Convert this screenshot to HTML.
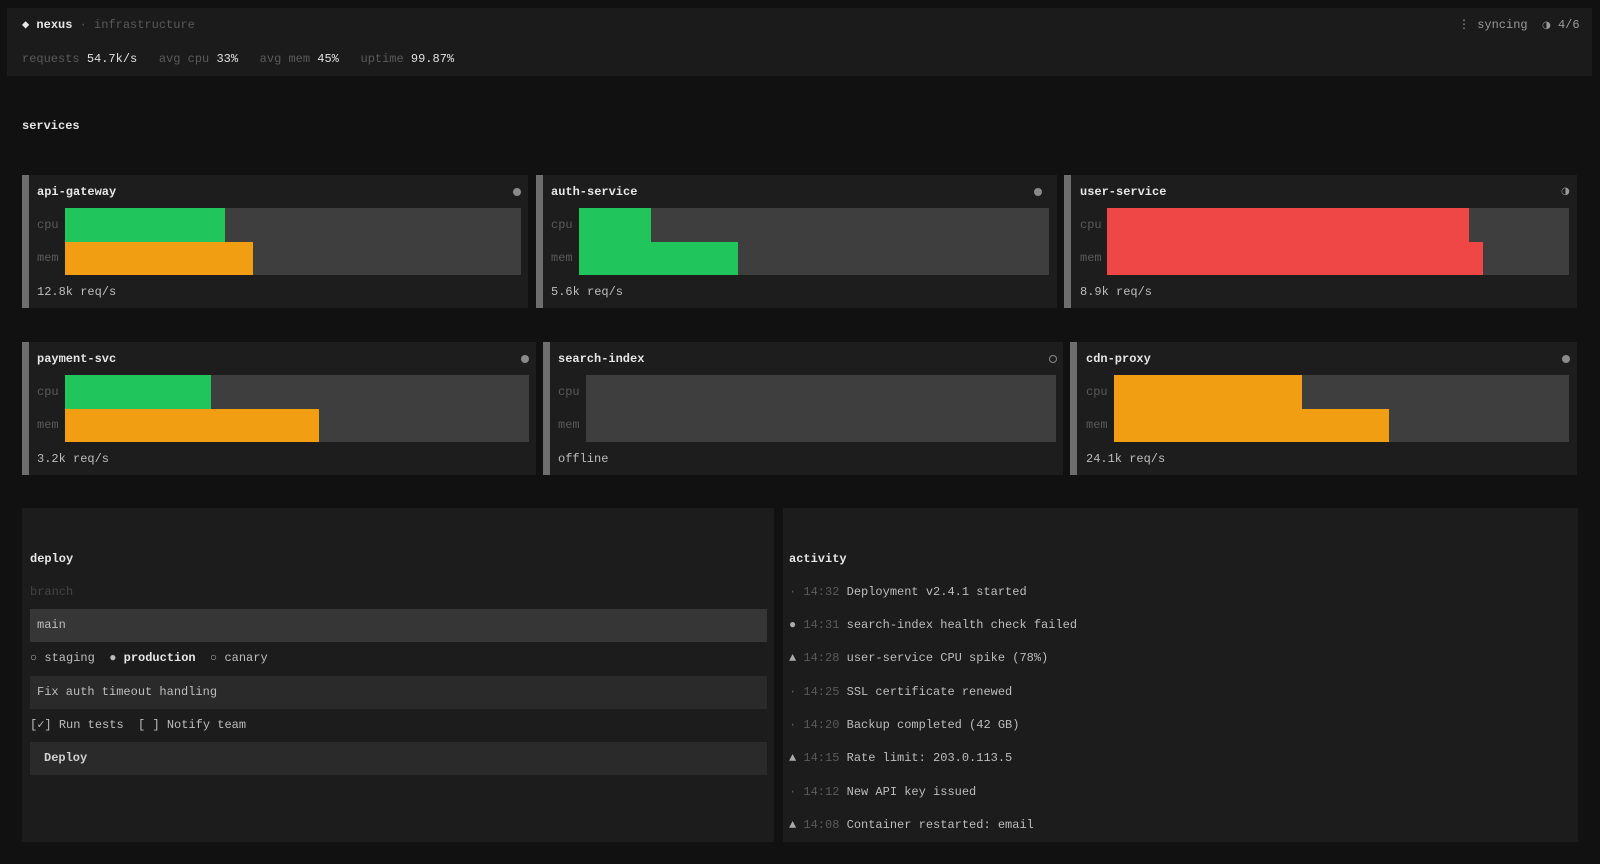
<!DOCTYPE html>
<html><head><meta charset="utf-8"><style>
*{margin:0;padding:0;box-sizing:border-box}
body{width:1600px;height:864px;background:#111112;font-family:"Liberation Mono",monospace;font-size:12px;color:#bdbdbd;position:relative;overflow:hidden}
.a{position:absolute;white-space:pre;line-height:16px}
.dim{color:#5a5a5a}
.b{color:#e6e6e6;font-weight:bold}
.sym{font-family:"DejaVu Sans",sans-serif}
.hdr{position:absolute;left:7px;top:8px;width:1585px;height:68px;background:#1b1b1c}
.card{position:absolute;background:#1d1d1e;border-left:7px solid #6e6e6e}
.trk{position:absolute;background:#3e3e3e}
.f{position:absolute}
.g{background:#20c55c}.o{background:#f29e12}.r{background:#ef4646}
.dot{position:absolute;width:8px;height:8px;border-radius:50%;background:#8a8a8a}
.pnl{position:absolute;background:#1c1c1d}
.inp{position:absolute;background:#2a2a2b}
</style></head><body>
<div class="hdr"></div>
<div class="a" style="left:22px;top:17px"><span class="b">◆ nexus</span><span class="dim"> · infrastructure</span></div>
<div class="a" style="left:22px;top:51px"><span class="dim">requests </span><span style="color:#e0e0e0">54.7k/s</span><span class="dim">   avg cpu </span><span style="color:#e0e0e0">33%</span><span class="dim">   avg mem </span><span style="color:#e0e0e0">45%</span><span class="dim">   uptime </span><span style="color:#e0e0e0">99.87%</span></div>
<div class="a" style="left:1458px;top:17px;color:#9a9a9a">⋮ syncing  <span class="sym" style="font-size:10px">◑</span> 4/6</div>
<div class="a b" style="left:22px;top:118px">services</div>

<!-- row1 -->
<div class="card" style="left:22px;top:175px;width:506px;height:133px"></div>
<div class="a b" style="left:37px;top:184px">api-gateway</div>
<div class="dot" style="left:513px;top:188px"></div>
<div class="a dim" style="left:37px;top:217px">cpu</div><div class="a dim" style="left:37px;top:250px">mem</div>
<div class="trk" style="left:65px;top:208px;width:456px;height:67px"></div>
<div class="f g" style="left:65px;top:208px;width:160px;height:34px"></div>
<div class="f o" style="left:65px;top:242px;width:188px;height:33px"></div>
<div class="a" style="left:37px;top:284px">12.8k req/s</div>

<div class="card" style="left:536px;top:175px;width:521px;height:133px"></div>
<div class="a b" style="left:551px;top:184px">auth-service</div>
<div class="dot" style="left:1034px;top:188px"></div>
<div class="a dim" style="left:551px;top:217px">cpu</div><div class="a dim" style="left:551px;top:250px">mem</div>
<div class="trk" style="left:579px;top:208px;width:470px;height:67px"></div>
<div class="f g" style="left:579px;top:208px;width:72px;height:34px"></div>
<div class="f g" style="left:579px;top:242px;width:159px;height:33px"></div>
<div class="a" style="left:551px;top:284px">5.6k req/s</div>

<div class="card" style="left:1064px;top:175px;width:513px;height:133px"></div>
<div class="a b" style="left:1080px;top:184px">user-service</div>
<div class="a sym" style="left:1561px;top:184px;font-size:10px;color:#9a9a9a">◑</div>
<div class="a dim" style="left:1080px;top:217px">cpu</div><div class="a dim" style="left:1080px;top:250px">mem</div>
<div class="trk" style="left:1107px;top:208px;width:462px;height:67px"></div>
<div class="f r" style="left:1107px;top:208px;width:362px;height:34px"></div>
<div class="f r" style="left:1107px;top:242px;width:376px;height:33px"></div>
<div class="a" style="left:1080px;top:284px">8.9k req/s</div>

<!-- row2 -->
<div class="card" style="left:22px;top:342px;width:514px;height:133px"></div>
<div class="a b" style="left:37px;top:351px">payment-svc</div>
<div class="dot" style="left:521px;top:355px"></div>
<div class="a dim" style="left:37px;top:384px">cpu</div><div class="a dim" style="left:37px;top:417px">mem</div>
<div class="trk" style="left:65px;top:375px;width:464px;height:67px"></div>
<div class="f g" style="left:65px;top:375px;width:146px;height:34px"></div>
<div class="f o" style="left:65px;top:409px;width:254px;height:33px"></div>
<div class="a" style="left:37px;top:451px">3.2k req/s</div>

<div class="card" style="left:543px;top:342px;width:520px;height:133px"></div>
<div class="a b" style="left:558px;top:351px">search-index</div>
<div class="dot" style="left:1049px;top:355px;background:none;border:1px solid #8a8a8a"></div>
<div class="a dim" style="left:558px;top:384px">cpu</div><div class="a dim" style="left:558px;top:417px">mem</div>
<div class="trk" style="left:586px;top:375px;width:470px;height:67px"></div>
<div class="a" style="left:558px;top:451px">offline</div>

<div class="card" style="left:1070px;top:342px;width:507px;height:133px"></div>
<div class="a b" style="left:1086px;top:351px">cdn-proxy</div>
<div class="dot" style="left:1562px;top:355px"></div>
<div class="a dim" style="left:1086px;top:384px">cpu</div><div class="a dim" style="left:1086px;top:417px">mem</div>
<div class="trk" style="left:1114px;top:375px;width:455px;height:67px"></div>
<div class="f o" style="left:1114px;top:375px;width:188px;height:34px"></div>
<div class="f o" style="left:1114px;top:409px;width:275px;height:33px"></div>
<div class="a" style="left:1086px;top:451px">24.1k req/s</div>

<!-- deploy -->
<div class="pnl" style="left:22px;top:508px;width:752px;height:334px"></div>
<div class="a b" style="left:30px;top:551px">deploy</div>
<div class="a" style="left:30px;top:584px;color:#444">branch</div>
<div class="inp" style="left:30px;top:609px;width:737px;height:33px;background:#363637"></div>
<div class="a" style="left:37px;top:617px">main</div>
<div class="a" style="left:30px;top:650px"><span style="color:#aaa">○</span> staging  <span style="color:#bbb">●</span> <span class="b">production</span>  <span style="color:#aaa">○</span> canary</div>
<div class="inp" style="left:30px;top:676px;width:737px;height:33px"></div>
<div class="a" style="left:37px;top:684px">Fix auth timeout handling</div>
<div class="a" style="left:30px;top:717px">[✓] Run tests  [ ] Notify team</div>
<div class="inp" style="left:30px;top:742px;width:737px;height:33px"></div>
<div class="a b" style="left:44px;top:750px;color:#d0d0d0">Deploy</div>

<!-- activity -->
<div class="pnl" style="left:783px;top:508px;width:795px;height:334px"></div>
<div class="a b" style="left:789px;top:551px">activity</div>
<div class="a" style="left:789px;top:584px"><span class="dim">· 14:32</span> Deployment v2.4.1 started</div>
<div class="a" style="left:789px;top:617px"><span style="color:#aaa">●</span><span class="dim"> 14:31</span> search-index health check failed</div>
<div class="a" style="left:789px;top:650px"><span style="color:#aaa">▲</span><span class="dim"> 14:28</span> user-service CPU spike (78%)</div>
<div class="a" style="left:789px;top:684px"><span class="dim">· 14:25</span> SSL certificate renewed</div>
<div class="a" style="left:789px;top:717px"><span class="dim">· 14:20</span> Backup completed (42 GB)</div>
<div class="a" style="left:789px;top:750px"><span style="color:#aaa">▲</span><span class="dim"> 14:15</span> Rate limit: 203.0.113.5</div>
<div class="a" style="left:789px;top:784px"><span class="dim">· 14:12</span> New API key issued</div>
<div class="a" style="left:789px;top:817px"><span style="color:#aaa">▲</span><span class="dim"> 14:08</span> Container restarted: email</div>
</body></html>
